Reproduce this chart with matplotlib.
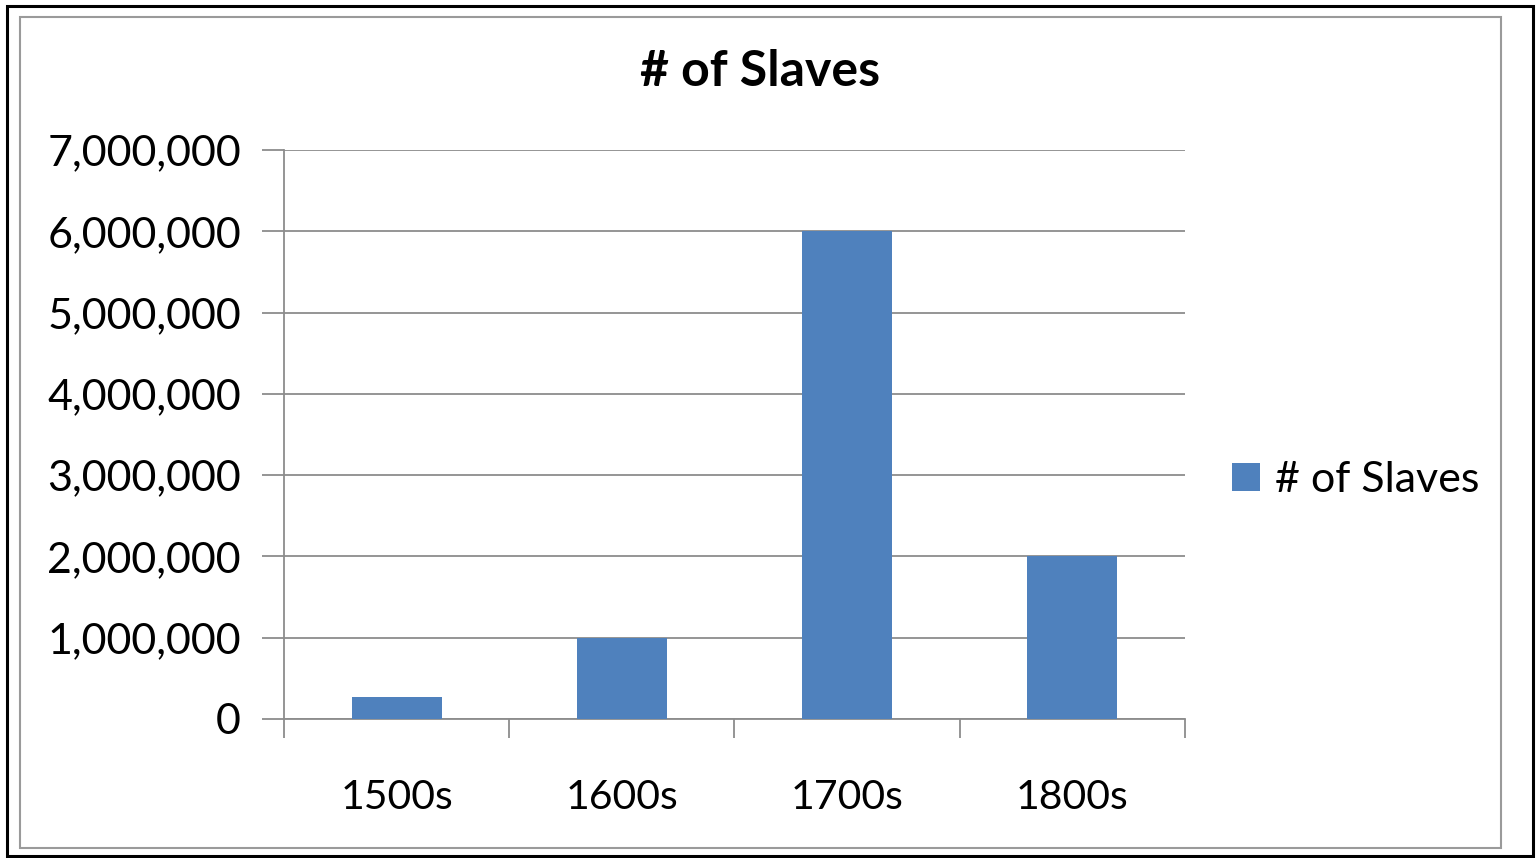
import matplotlib
matplotlib.use("Agg")
import matplotlib.pyplot as plt
from matplotlib.patches import Rectangle
from matplotlib.ticker import FuncFormatter, MultipleLocator

categories = ["1500s", "1600s", "1700s", "1800s"]
values = [275000, 1000000, 6000000, 2000000]
series_name = "# of Slaves"
title = "# of Slaves"

W, H = 1537, 858
plt.rcParams['font.family'] = ['Lato', 'DejaVu Sans']
fig = plt.figure(figsize=(W / 100, H / 100), dpi=100)

# borders
fig.patches.append(Rectangle((7 / W, 1 - 856 / H), (1533 - 7) / W, (856 - 6) / H,
                             transform=fig.transFigure, fill=False, edgecolor='black', linewidth=2.2))
fig.patches.append(Rectangle((20 / W, 1 - 848 / H), (1501 - 20) / W, (848 - 17) / H,
                             transform=fig.transFigure, fill=False, edgecolor='#9a9a9a', linewidth=1.5))

ax = fig.add_axes([284 / W, 1 - 719 / H, (1185 - 284) / W, (719 - 150) / H])
x = list(range(len(categories)))
bars = ax.bar(x, values, width=0.4, color='#4f81bd', label=series_name, zorder=3)
ax.set_xlim(-0.5, len(categories) - 0.5)
ax.set_ylim(0, 7000000)
ax.yaxis.set_major_locator(MultipleLocator(1000000))
ax.yaxis.set_major_formatter(FuncFormatter(lambda v, p: f"{int(v):,}"))
ax.grid(axis='y', color='#8c8c8c', linewidth=1.3, zorder=0)
ax.set_axisbelow(True)
for s in ['top', 'right']:
    ax.spines[s].set_visible(False)
for s in ['left', 'bottom']:
    ax.spines[s].set_color('#8c8c8c')
    ax.spines[s].set_linewidth(1.3)

ax.set_xticks([i - 0.5 for i in range(len(categories) + 1)], minor=False)
ax.set_xticklabels([])
ax.set_xticks(x, minor=True)
ax.set_xticklabels(categories, minor=True)
ax.tick_params(axis='x', which='major', length=14, width=1.3, color='#8c8c8c', direction='out')
ax.tick_params(axis='x', which='minor', length=0, labelsize=29.5, pad=43)
ax.tick_params(axis='y', length=16, width=1.3, color='#8c8c8c', direction='out', labelsize=31, pad=15)

fig.text(760 / W, 1 - 72 / H, title, ha='center', va='center', fontsize=36, fontweight='bold')

leg = fig.legend(handles=[bars], labels=[series_name], loc='center left',
                 bbox_to_anchor=(1193 / W, 1 - 480 / H), frameon=False, fontsize=31,
                 handlelength=0.65, handleheight=0.65, handletextpad=0.35)

fig.savefig("out.png", dpi=100)
